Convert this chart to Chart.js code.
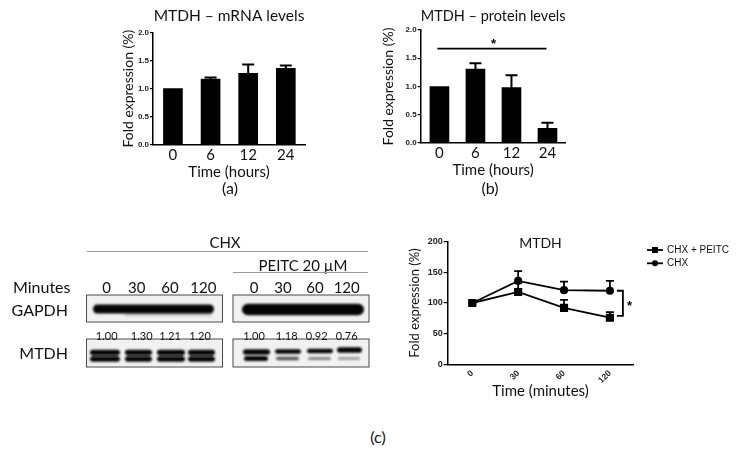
<!DOCTYPE html>
<html><head><meta charset="utf-8">
<script src="https://cdn.jsdelivr.net/npm/chart.js@4.4.1/dist/chart.umd.min.js"></script>
<style>
html,body{margin:0;padding:0;background:#fff;}
body{width:739px;height:451px;position:relative;overflow:hidden;font-family:Lato,"Open Sans",sans-serif;color:#111;}
canvas{position:absolute;}
.t{position:absolute;white-space:nowrap;transform:translate(-50%,-50%);line-height:1;}
.r{position:absolute;white-space:nowrap;transform:translate(-100%,-50%);line-height:1;}
.l{position:absolute;white-space:nowrap;transform:translate(0,-50%);line-height:1;}
.rule{position:absolute;height:0;border-top:1px solid #9a9a9a;}
</style></head><body>
<canvas id="blot" width="380" height="160" style="left:0;top:220px"></canvas>
<canvas id="ca" width="215" height="200" style="left:95px;top:0"></canvas>
<canvas id="cb" width="215" height="200" style="left:360px;top:0"></canvas>
<canvas id="cc" width="359" height="190" style="left:380px;top:225px"></canvas>
<div id="txt"></div>
<script>
// ---------- data ----------
const hourLabels = ['0', '6', '12', '24'];
const mrnaValues = [1.00, 1.17, 1.27, 1.36];
const mrnaErrors = [0, 0.03, 0.16, 0.05];
const proteinValues = [1.00, 1.31, 0.98, 0.26];
const proteinErrors = [0, 0.10, 0.22, 0.10];
const proteinSig = {from: 0, to: 3, y: 1.67, label: '*'};
const minuteLabels = ['0', '30', '60', '120'];
const chxPeitcValues = [100, 118, 92, 76];
const chxPeitcErrors = [0, 15, 13, 9];
const chxValues = [100, 136, 121, 120];
const chxErrors = [0, 16, 14, 16];
const lineBracket = {top: 120, bottom: 79, label: '*'};
const seriesNames = ['CHX + PEITC', 'CHX'];
const blotLanes = ['0', '30', '60', '120'];
const chxQuant = ['1.00', '1.30', '1.21', '1.20'];
const peitcQuant = ['1.00', '1.18', '0.92', '0.76'];

// ---------- shared ----------
const tickFont = {family: '"Liberation Sans", Arial, sans-serif', size: 8, weight: 'bold'};
const labelFont = {family: 'Lato, "Open Sans", sans-serif', size: 15};
const titleFont = {family: 'Lato, "Open Sans", sans-serif', size: 15.5, weight: 'normal'};
const axisTitleFont = {family: 'Lato, "Open Sans", sans-serif', size: 14};
Chart.defaults.color = '#111';
Chart.defaults.animation = false;

const errorBars = {
  id: 'errorBars',
  afterDatasetsDraw(chart, args, opts) {
    const ctx = chart.ctx, y = chart.scales.y;
    chart.data.datasets.forEach((ds, di) => {
      if (!ds.errors) return;
      const meta = chart.getDatasetMeta(di);
      meta.data.forEach((el, i) => {
        const e = ds.errors[i];
        if (!e) return;
        const top = y.getPixelForValue(ds.data[i].y + e);
        ctx.save();
        ctx.strokeStyle = '#000'; ctx.lineWidth = opts.width || 2;
        ctx.beginPath();
        ctx.moveTo(el.x, el.y); ctx.lineTo(el.x, top);
        ctx.moveTo(el.x - opts.cap, top); ctx.lineTo(el.x + opts.cap, top);
        ctx.stroke(); ctx.restore();
      });
    });
  }
};

function barChart(id, values, errors, title, yW, xH, extraPlugins, xMin, xMax, pads) {
  return new Chart(document.getElementById(id), {
    type: 'bar',
    data: {datasets: [{data: values.map((v, i) => ({x: i, y: v})), errors: errors,
      backgroundColor: '#000', borderWidth: 0, barThickness: 19}]},
    options: {
      responsive: false,
      layout: {padding: {left: 0, right: pads.right, top: 0, bottom: 0}},
      plugins: {
        legend: {display: false}, tooltip: {enabled: false},
        title: {display: true, text: title, font: titleFont, color: '#111', fullSize: false,
          padding: {top: pads.tTop, bottom: pads.tBottom}},
        errorBars: {cap: 6, width: 2}
      },
      scales: {
        x: {type: 'linear', min: xMin, max: xMax, offset: false,
          grid: {display: true, drawOnChartArea: false, drawTicks: false},
          border: {color: '#000', width: 1.5},
          ticks: {stepSize: 1, includeBounds: false, autoSkip: false, font: labelFont, color: '#111', padding: 1,
            callback: v => Number.isInteger(v) && hourLabels[v] !== undefined ? hourLabels[v] : ''},
          title: {display: true, text: 'Time (hours)', font: labelFont, color: '#111', padding: {top: 0, bottom: pads.xtBottom}},
          afterFit: s => { s.height = xH; }
        },
        y: {min: 0, max: 2,
          grid: {display: true, drawOnChartArea: false, drawTicks: true, tickLength: 3, color: '#000', lineWidth: 1.2},
          border: {color: '#000', width: 1.5},
          ticks: {stepSize: 0.5, font: tickFont, color: '#222', padding: 1, callback: v => v.toFixed(1)},
          title: {display: true, text: 'Fold expression (%)', font: axisTitleFont, color: '#111', padding: {top: pads.ytTop, bottom: 0}},
          afterFit: s => { s.width = yW; }
        }
      }
    },
    plugins: [errorBars].concat(extraPlugins)
  });
}

barChart('ca', mrnaValues, mrnaErrors, 'MTDH \u2013 mRNA levels', 58, 55, [], -0.53, 3.51,
  {right: 5, tTop: 6.4, tBottom: 7.3, xtBottom: 19.3, ytTop: 24.6});

const sigLine = {
  id: 'sigLine',
  afterDatasetsDraw(chart) {
    const {ctx, scales: {x, y}} = chart;
    const yy = y.getPixelForValue(proteinSig.y);
    ctx.save(); ctx.strokeStyle = '#000'; ctx.lineWidth = 1.6;
    ctx.beginPath(); ctx.moveTo(x.getPixelForValue(proteinSig.from) - 2, yy);
    ctx.lineTo(x.getPixelForValue(proteinSig.to) - 1, yy); ctx.stroke();
    ctx.fillStyle = '#000'; ctx.font = 'bold 13px "Liberation Sans", Arial'; ctx.textAlign = 'center';
    ctx.fillText(proteinSig.label, (x.getPixelForValue(proteinSig.from) + x.getPixelForValue(proteinSig.to)) / 2, yy - 1);
    ctx.restore();
  }
};
barChart('cb', proteinValues, proteinErrors, 'MTDH \u2013 protein levels', 60.7, 57, [sigLine], -0.52, 3.5,
  {right: 9.5, tTop: 6.4, tBottom: 5, xtBottom: 21, ytTop: 19.9});

// ---------- line chart ----------
const lineExtras = {
  id: 'lineExtras',
  afterDraw(chart) {
    const {ctx, scales: {x, y}} = chart;
    ctx.save();
    const bx = x.getPixelForValue(minuteLabels.length - 1) + 13;
    const t = y.getPixelForValue(lineBracket.top), b = y.getPixelForValue(lineBracket.bottom);
    ctx.strokeStyle = '#000'; ctx.lineWidth = 1.8;
    ctx.beginPath(); ctx.moveTo(bx - 6, t); ctx.lineTo(bx, t); ctx.lineTo(bx, b); ctx.lineTo(bx - 6, b); ctx.stroke();
    ctx.fillStyle = '#000'; ctx.font = 'bold 13px "Liberation Sans", Arial'; ctx.textAlign = 'left'; ctx.textBaseline = 'middle';
    ctx.fillText(lineBracket.label, bx + 4, (t + b) / 2 + 3);
    chart.data.datasets.forEach((ds, i) => {
      const ly = 25 + i * 13.3, lx = 267;
      ctx.beginPath(); ctx.moveTo(lx, ly); ctx.lineTo(lx + 16, ly); ctx.lineWidth = 1.8; ctx.stroke();
      ctx.beginPath();
      if (ds.pointStyle === 'rect') ctx.rect(lx + 5, ly - 3, 6, 6); else ctx.arc(lx + 8, ly, 3, 0, Math.PI * 2);
      ctx.fill();
      ctx.font = '10px "Liberation Sans", Arial'; ctx.textAlign = 'left'; ctx.textBaseline = 'middle'; ctx.fillStyle = '#111';
      ctx.fillText(ds.label, lx + 20, ly);
      ctx.fillStyle = '#000';
    });
    ctx.restore();
  }
};
new Chart(document.getElementById('cc'), {
  type: 'line',
  data: {datasets: [
    {label: seriesNames[0], data: chxPeitcValues.map((v, i) => ({x: i, y: v})), errors: chxPeitcErrors,
      borderColor: '#000', backgroundColor: '#000', borderWidth: 1.8, pointStyle: 'rect', pointRadius: 4.5, tension: 0},
    {label: seriesNames[1], data: chxValues.map((v, i) => ({x: i, y: v})), errors: chxErrors,
      borderColor: '#000', backgroundColor: '#000', borderWidth: 1.8, pointStyle: 'circle', pointRadius: 3.2, tension: 0}
  ]},
  options: {
    responsive: false,
    layout: {padding: {left: 0, right: 105.7, top: 0, bottom: 0}},
    plugins: {
      legend: {display: false}, tooltip: {enabled: false},
      title: {display: true, text: 'MTDH', font: {family: 'Lato, "Open Sans", sans-serif', size: 14, weight: 'normal'}, color: '#111', fullSize: false,
        padding: {top: 9.9, bottom: -10}},
      errorBars: {cap: 4, width: 1.8}
    },
    scales: {
      x: {type: 'linear', min: -0.536, max: 3.51,
        grid: {display: true, drawOnChartArea: false, drawTicks: false},
        border: {color: '#000', width: 1.5},
        ticks: {stepSize: 1, includeBounds: false, autoSkip: false, minRotation: 45, maxRotation: 45, padding: 4,
          font: {family: '"Liberation Sans", Arial, sans-serif', size: 8.5, weight: 'bold'}, color: '#222',
          callback: v => Number.isInteger(v) && minuteLabels[v] !== undefined ? minuteLabels[v] : ''},
        title: {display: true, text: 'Time (minutes)', font: labelFont, color: '#111', padding: {top: 0, bottom: 15.3}},
        afterFit: s => { s.height = 50.7; }
      },
      y: {min: 0, max: 200,
        grid: {display: true, drawOnChartArea: false, drawTicks: true, tickLength: 4, color: '#000', lineWidth: 1.2},
        border: {color: '#000', width: 1.5},
        ticks: {stepSize: 50, font: {family: '"Liberation Sans", Arial, sans-serif', size: 9, weight: 'bold'}, color: '#222', padding: 1},
        title: {display: true, text: 'Fold expression (%)', font: {family: 'Lato, "Open Sans", sans-serif', size: 13}, color: '#111', padding: {top: 27.2, bottom: 0}},
        afterFit: s => { s.width = 67.7; }
      }
    }
  },
  plugins: [errorBars, lineExtras]
});

// ---------- western blot panel (decorative image) ----------
(function () {
  const c = document.getElementById('blot'), ctx = c.getContext('2d');
  const oy = 220;
  const boxes = [[86.5, 295, 136, 27], [233, 295, 136, 27], [86.5, 339, 136, 28], [233, 339, 136, 28]];
  ctx.fillStyle = '#f1f1f1';
  boxes.forEach(b => ctx.fillRect(b[0], b[1] - oy, b[2], b[3]));
  function band(x1, x2, yc, h, a, blur) {
    ctx.save(); ctx.filter = 'blur(' + (blur || 0.8) + 'px)'; ctx.fillStyle = 'rgba(5,5,5,' + a + ')';
    ctx.beginPath(); ctx.roundRect(x1, yc - oy - h / 2, x2 - x1, h, h / 2); ctx.fill(); ctx.restore();
  }
  // GAPDH
  band(93, 214, 309, 9, 1);
  band(125, 212, 314, 3.5, 0.22, 1.5);
  band(242, 364, 309.5, 11.5, 1);
  // MTDH left
  [[90, 120], [125, 152], [157, 185], [188, 215]].forEach(l => {
    band(l[0], l[1], 352.5, 5.5, 1); band(l[0], l[1], 359, 5.5, 1); band(l[0] + 2, l[1] - 2, 355.8, 2, 0.55, 0.6);
  });
  // MTDH right
  const rl = [[243, 270], [275, 301], [307, 333], [337, 362]];
  const topY = [352, 351.5, 351, 350], topH = [5.5, 4.5, 4.5, 5.5], botA = [1, 0.65, 0.45, 0.35], botH = [5, 3.5, 3, 3];
  rl.forEach((l, i) => { band(l[0], l[1], topY[i], topH[i], 1); band(l[0] + 1, l[1] - 2, 358.5, botH[i], botA[i]); });
  ctx.strokeStyle = '#4a4a4a'; ctx.lineWidth = 1;
  boxes.forEach(b => ctx.strokeRect(b[0], b[1] - oy, b[2], b[3]));
})();

// ---------- text ----------
const T = document.getElementById('txt');
function put(cls, text, x, y, size) {
  const d = document.createElement('div'); d.className = cls; d.textContent = text;
  d.style.left = x + 'px'; d.style.top = y + 'px'; d.style.fontSize = size + 'px';
  T.appendChild(d);
}
put('t', '(a)', 230, 188, 16);
put('t', '(b)', 490, 188, 16);
put('t', '(c)', 378, 437, 16);
put('t', 'CHX', 225, 242, 15);
put('t', 'PEITC 20 \u00b5M', 303, 265, 15);
put('l', 'Minutes', 13, 287, 16);
put('r', 'GAPDH', 68, 310, 16);
put('r', 'MTDH', 68, 353, 16);
const laneL = [106.7, 136.7, 170, 203.3], laneR = [254, 283, 315, 346.7];
blotLanes.forEach((s, i) => { put('t', s, laneL[i], 287, 15); put('t', s, laneR[i], 287, 15); });
const qL = [106.7, 141.7, 170, 200], qR = [254, 286.7, 316.7, 346.7];
chxQuant.forEach((s, i) => put('t', s, qL[i], 335, 11));
peitcQuant.forEach((s, i) => put('t', s, qR[i], 335, 11));
const r1 = document.createElement('div'); r1.className = 'rule'; Object.assign(r1.style, {left: '87px', top: '251px', width: '281px'}); T.appendChild(r1);
const r2 = document.createElement('div'); r2.className = 'rule'; Object.assign(r2.style, {left: '233px', top: '272px', width: '135px'}); T.appendChild(r2);
</script>
</body></html>
